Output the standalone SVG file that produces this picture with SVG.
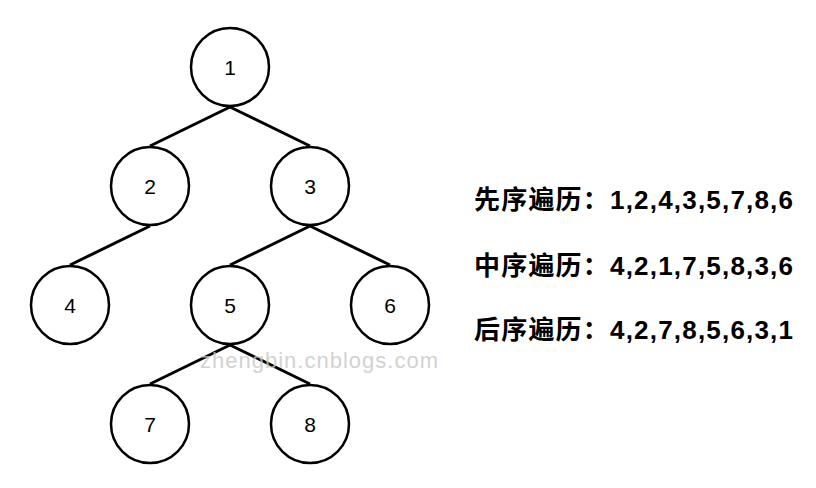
<svg xmlns="http://www.w3.org/2000/svg" width="816" height="488" viewBox="0 0 816 488">
<style>
.n{fill:#fff;stroke:#000;stroke-width:2.5}
.l{stroke:#000;stroke-width:3}
.t{font-family:"Liberation Sans",Arial,sans-serif;font-size:21px;text-anchor:middle;dominant-baseline:central}
.r{font-family:"Liberation Sans","Noto Sans CJK SC",sans-serif;font-size:26px;font-weight:bold}
</style>
<rect width="816" height="488" fill="#fff"/>
<g id="connectors">
<line class="l" x1="230" y1="107" x2="150" y2="146"/>
<line class="l" x1="230" y1="107" x2="310" y2="146"/>
<line class="l" x1="150" y1="226" x2="70" y2="265"/>
<line class="l" x1="310" y1="226" x2="230" y2="265"/>
<line class="l" x1="310" y1="226" x2="390" y2="265"/>
<line class="l" x1="230" y1="345" x2="150" y2="384"/>
<line class="l" x1="230" y1="345" x2="310" y2="384"/>
</g>
<g id="n1"><circle class="n" cx="230" cy="67" r="39"/><text class="t" x="230" y="67">1</text></g>
<g id="n2"><circle class="n" cx="150" cy="186" r="39"/><text class="t" x="150" y="186">2</text></g>
<g id="n3"><circle class="n" cx="310" cy="186" r="39"/><text class="t" x="310" y="186">3</text></g>
<g id="n4"><circle class="n" cx="70" cy="305" r="39"/><text class="t" x="70" y="305">4</text></g>
<g id="n5"><circle class="n" cx="230" cy="305" r="39"/><text class="t" x="230" y="305">5</text></g>
<g id="n6"><circle class="n" cx="390" cy="305" r="39"/><text class="t" x="390" y="305">6</text></g>
<g id="n7"><circle class="n" cx="150" cy="424" r="39"/><text class="t" x="150" y="424">7</text></g>
<g id="n8"><circle class="n" cx="310" cy="424" r="39"/><text class="t" x="310" y="424">8</text></g>
<text x="200" y="368" font-family="Liberation Sans,sans-serif" font-size="22" textLength="238" fill="#c8c8c8" opacity="0.8">zhengbin.cnblogs.com</text>
<text class="r" x="474" y="209" textLength="319">先序遍历：1,2,4,3,5,7,8,6</text>
<text class="r" x="474" y="275" textLength="319">中序遍历：4,2,1,7,5,8,3,6</text>
<text class="r" x="474" y="339" textLength="319">后序遍历：4,2,7,8,5,6,3,1</text>
</svg>
